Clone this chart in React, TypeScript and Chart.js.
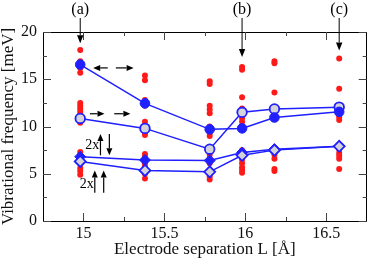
import React, { useEffect, useRef } from "react";
import { Chart, registerables } from "chart.js";
Chart.register(...registerables);

// Electrode separation L [Å] for each computed geometry
const separations = [14.98, 15.38, 15.78, 15.98, 16.18, 16.58];
// Blue series (meV)
const filledCircle = [16.55, 12.45, 9.7, 9.8, 10.95, 11.55];
const openCircle = [10.85, 9.8, 7.6, 11.5, 11.85, 12.05];
const filledDiamond = [6.8, 6.45, 6.4, 7.25, 7.6, 7.9];
const openDiamond = [6.3, 5.35, 5.2, 6.95, 7.5, 7.9];
// Red markers: all vibrational modes at each separation (meV)
const redA = [18.1, 16.9, 16.2, 15.7, 12.5, 12.2, 11.9, 11.6, 11.3, 11.0, 10.7, 10.4, 7.3, 7.0, 6.7, 6.4, 6.1, 5.6, 5.3, 4.9];
const redB = [15.4, 14.9, 12.8, 12.2, 10.5, 10.1, 9.7, 9.4, 9.1, 7.1, 6.8, 6.5, 6.1, 5.8, 5.0, 4.5];
const redC = [14.8, 14.5, 12.2, 11.8, 11.4, 10.0, 9.7, 9.3, 9.0, 7.0, 6.6, 6.1, 5.0, 4.7, 4.4];
const redD = [16.3, 16.0, 13.1, 11.9, 10.9, 10.5, 7.5, 7.2, 6.8, 6.5, 6.1, 5.7, 5.4, 5.1];
const redE = [16.9, 16.7, 13.6, 11.2, 10.8, 7.7, 7.0, 6.6, 5.5, 5.3];
const redF = [17.2, 14.0, 11.3, 11.0, 10.7, 7.6, 7.2, 6.9, 6.6, 5.5];
const redColumns = [redA, redB, redC, redD, redE, redF];
// Axis ticks
const xTicks = [15, 15.5, 16, 16.5];
const xMinorTicks = [15.25, 15.75, 16.25];
const yTicks = [0, 5, 10, 15, 20];
const yMinorTicks = [2.5, 7.5, 12.5, 17.5];
// Panel labels
const panelLabels = ["(a)", "(b)", "(c)"];
const panelIndex = [0, 3, 5];
const panelArrowTips = [18.8, 17.35, 18.05];

const SERIF = '"Liberation Serif", "DejaVu Serif", serif';
const BLUE = "#1f1fff";

function arrow(ctx: CanvasRenderingContext2D, x1: number, y1: number, x2: number, y2: number, hl = 7, hw = 3) {
  const a = Math.atan2(y2 - y1, x2 - x1);
  const bx = x2 - hl * Math.cos(a);
  const by = y2 - hl * Math.sin(a);
  ctx.beginPath();
  ctx.moveTo(x1, y1);
  ctx.lineTo(bx, by);
  ctx.stroke();
  ctx.beginPath();
  ctx.moveTo(x2, y2);
  ctx.lineTo(bx + hw * Math.sin(a), by - hw * Math.cos(a));
  ctx.lineTo(bx - hw * Math.sin(a), by + hw * Math.cos(a));
  ctx.closePath();
  ctx.fill();
}

const framePlugin = {
  id: "frameNotes",
  afterDatasetsDraw(chart: any) {
    const { ctx, chartArea: ca, scales } = chart;
    const xs = scales.x;
    const ys = scales.y;
    ctx.save();
    ctx.strokeStyle = "#000";
    ctx.lineWidth = 1;
    ctx.strokeRect(Math.round(ca.left) + 0.5, Math.round(ca.top) + 0.5, Math.round(ca.right - ca.left) - 1, Math.round(ca.bottom - ca.top));
    ctx.strokeStyle = "#444";
    const tick = (x1: number, y1: number, x2: number, y2: number) => {
      ctx.beginPath();
      ctx.moveTo(x1, y1);
      ctx.lineTo(x2, y2);
      ctx.stroke();
    };
    xTicks.forEach((v) => {
      const x = Math.round(xs.getPixelForValue(v)) + 0.5;
      tick(x, ca.bottom, x, ca.bottom - 8);
      tick(x, ca.top, x, ca.top + 8);
    });
    xMinorTicks.forEach((v) => {
      const x = Math.round(xs.getPixelForValue(v)) + 0.5;
      tick(x, ca.bottom, x, ca.bottom - 4);
      tick(x, ca.top, x, ca.top + 4);
    });
    yTicks.forEach((v) => {
      const y = Math.round(ys.getPixelForValue(v)) + 0.5;
      tick(ca.left, y, ca.left + 8, y);
      tick(ca.right, y, ca.right - 8, y);
    });
    yMinorTicks.forEach((v) => {
      const y = Math.round(ys.getPixelForValue(v)) + 0.5;
      tick(ca.left, y, ca.left + 4, y);
      tick(ca.right, y, ca.right - 4, y);
    });

    // panel labels with arrows
    ctx.fillStyle = "#000";
    ctx.strokeStyle = "#000";
    ctx.font = `16px ${SERIF}`;
    ctx.textAlign = "center";
    ctx.textBaseline = "middle";
    panelLabels.forEach((lab, i) => {
      const x = xs.getPixelForValue(separations[panelIndex[i]]);
      ctx.fillText(lab, x, 10);
      arrow(ctx, x, 18, x, ys.getPixelForValue(panelArrowTips[i]), 8, 3.2);
    });

    const px = (v: number) => xs.getPixelForValue(v);
    const py = (v: number) => ys.getPixelForValue(v);
    ctx.lineWidth = 1.2;
    // <-  ->
    const yA = py(16.2);
    arrow(ctx, px(15.15), yA, px(15.06), yA, 7, 3);
    arrow(ctx, px(15.2), yA, px(15.31), yA, 7, 3);
    // ->  ->
    const yB = py(11.35);
    arrow(ctx, px(15.04), yB, px(15.13), yB, 7, 3);
    arrow(ctx, px(15.19), yB, px(15.29), yB, 7, 3);
    // 2x up/down
    ctx.font = `14px ${SERIF}`;
    ctx.fillText("2x", px(15.055), py(8.0));
    arrow(ctx, px(15.105), py(6.95), px(15.105), py(9.2), 7, 3);
    arrow(ctx, px(15.16), py(9.2), px(15.16), py(6.95), 7, 3);
    // 2x up up
    ctx.fillText("2x", px(15.02), py(3.9));
    arrow(ctx, px(15.07), py(3.0), px(15.07), py(5.35), 7, 3);
    arrow(ctx, px(15.125), py(3.0), px(15.125), py(5.35), 7, 3);
    ctx.restore();
  },
};

const pts = (ys: number[]) => ys.map((y, i) => ({ x: separations[i], y }));

export default function App() {
  const ref = useRef<HTMLCanvasElement>(null);
  useEffect(() => {
    document.body.style.margin = "0";
    const redPoints: { x: number; y: number }[] = [];
    redColumns.forEach((col, i) => col.forEach((y) => redPoints.push({ x: separations[i], y })));
    const chart = new Chart(ref.current!, {
      type: "scatter",
      data: {
        datasets: [
          {
            label: "filled circle",
            data: pts(filledCircle),
            showLine: true,
            borderColor: BLUE,
            backgroundColor: BLUE,
            borderWidth: 1.5,
            pointRadius: 4.8,
            pointBorderWidth: 1,
            pointStyle: "circle",
            order: 1,
          } as any,
          {
            label: "open circle",
            data: pts(openCircle),
            showLine: true,
            borderColor: BLUE,
            backgroundColor: "#d4d4d8",
            borderWidth: 1.5,
            pointRadius: 4.8,
            pointBorderWidth: 1.8,
            pointStyle: "circle",
            order: 2,
          },
          {
            label: "filled diamond",
            data: pts(filledDiamond),
            showLine: true,
            borderColor: BLUE,
            backgroundColor: BLUE,
            borderWidth: 1.5,
            pointRadius: 5.5,
            pointBorderWidth: 1,
            pointStyle: "rectRot",
            order: 4,
          },
          {
            label: "open diamond",
            data: pts(openDiamond),
            showLine: true,
            borderColor: BLUE,
            backgroundColor: "#d4d4d8",
            borderWidth: 1.5,
            pointRadius: 5.5,
            pointBorderWidth: 1.8,
            pointStyle: "rectRot",
            order: 3,
          },
          {
            label: "modes",
            data: redPoints,
            showLine: false,
            borderColor: "#ff1a1a",
            backgroundColor: "#ff1a1a",
            pointRadius: 3,
            pointBorderWidth: 0,
            order: 10,
          },
        ],
      },
      options: {
        animation: false,
        responsive: false,
        maintainAspectRatio: false,
        layout: { padding: { left: 0, right: 2, top: 32, bottom: 0 } },
        plugins: { legend: { display: false }, tooltip: { enabled: false } },
        scales: {
          x: {
            type: "linear",
            min: 14.75,
            max: 16.75,
            grid: { display: false, drawTicks: false },
            border: { display: false },
            afterBuildTicks: (s: any) => {
              s.ticks = xTicks.map((v) => ({ value: v }));
            },
            afterFit: (s: any) => {
              s.height = 43;
            },
            ticks: {
              color: "#111",
              font: { family: SERIF, size: 16 },
              padding: 3,
              maxRotation: 0,
              callback: (v: any) => String(v),
            },
            title: {
              display: true,
              text: "Electrode separation L [Å]",
              color: "#111",
              font: { family: SERIF, size: 17 },
              padding: { top: 0, bottom: 4 },
            },
          },
          y: {
            type: "linear",
            min: 0,
            max: 20,
            grid: { display: false, drawTicks: false },
            border: { display: false },
            afterBuildTicks: (s: any) => {
              s.ticks = yTicks.map((v) => ({ value: v }));
            },
            afterFit: (s: any) => {
              s.width = 43;
            },
            ticks: {
              color: "#111",
              font: { family: SERIF, size: 16 },
              padding: 6,
              callback: (v: any) => String(v),
            },
            title: {
              display: true,
              text: "Vibrational frequency [meV]",
              color: "#111",
              font: { family: SERIF, size: 17, lineHeight: 1 },
              padding: { top: 0, bottom: 0 },
            },
          },
        },
      },
      plugins: [framePlugin],
    });
    return () => chart.destroy();
  }, []);
  return (
    <div style={{ position: "absolute", left: 0, top: 0, width: 374, height: 264 }}>
      <canvas ref={ref} width={374} height={264} style={{ width: 374, height: 264, display: "block" }} />
    </div>
  );
}
